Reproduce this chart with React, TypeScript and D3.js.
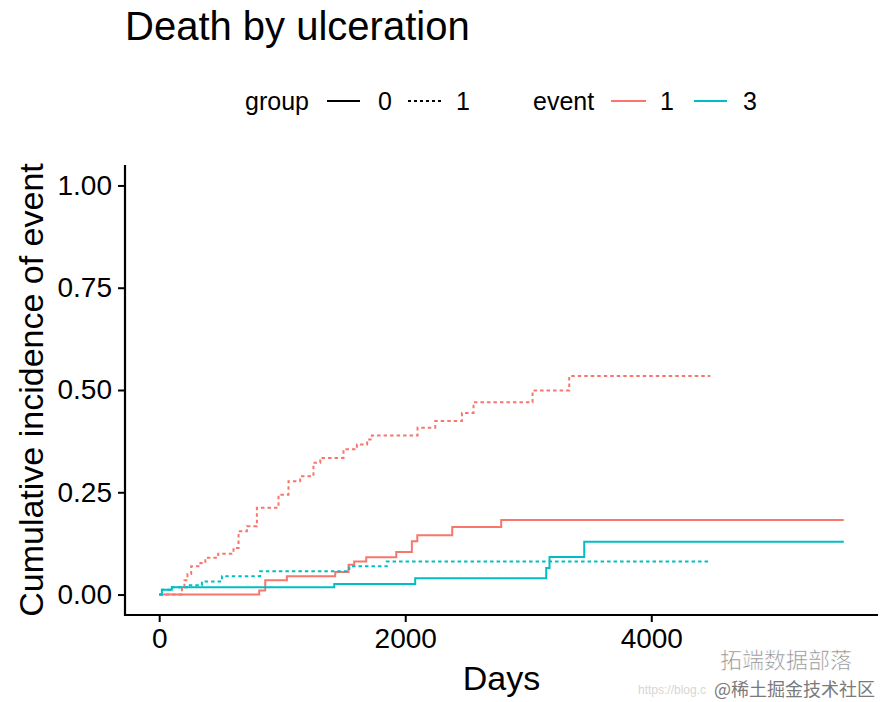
import React, { useEffect, useRef } from 'react';
import * as d3 from 'd3';

// cumulative incidence, days / value
const g0e1Days = [0, 813, 862, 1038, 1431, 1539, 1585, 1683, 1927, 2054, 2098, 2382, 2780, 5565];
const g0e1Vals = [0, 0.010, 0.035, 0.045, 0.055, 0.073, 0.081, 0.091, 0.104, 0.130, 0.145, 0.165, 0.182, 0.182];

const g0e3Days = [0, 22, 103, 1423, 2081, 3146, 3173, 3455, 5565];
const g0e3Vals = [0, 0.012, 0.018, 0.026, 0.040, 0.065, 0.092, 0.129, 0.129];

const g1e1Days = [0, 185, 205, 230, 260, 335, 375, 480, 604, 645, 713, 794, 970, 1051, 1146, 1254, 1309, 1498, 1607, 1690, 1729, 2100, 2244, 2461, 2555, 3035, 3333, 4480];
const g1e1Vals = [0, 0.020, 0.035, 0.050, 0.069, 0.077, 0.090, 0.100, 0.114, 0.155, 0.167, 0.212, 0.244, 0.277, 0.289, 0.322, 0.334, 0.355, 0.367, 0.379, 0.389, 0.408, 0.424, 0.444, 0.470, 0.499, 0.534, 0.534];

const g1e3Days = [0, 22, 103, 236, 347, 510, 821, 1545, 1850, 4480];
const g1e3Vals = [0, 0.012, 0.018, 0.023, 0.032, 0.045, 0.057, 0.069, 0.081, 0.081];

const xTicks = [0, 2000, 4000];
const yTicks = [0, 0.25, 0.5, 0.75, 1];

const FONT = '"Liberation Sans", Arial, sans-serif';
const CJK = '"Noto Sans CJK SC", sans-serif';
const RED = '#F8766D';
const TEAL = '#00BFC4';
const DASH = '3.5,3';

const series = [
  { days: g0e1Days, vals: g0e1Vals, color: RED, dashed: false },
  { days: g0e3Days, vals: g0e3Vals, color: TEAL, dashed: false },
  { days: g1e1Days, vals: g1e1Vals, color: RED, dashed: true },
  { days: g1e3Days, vals: g1e3Vals, color: TEAL, dashed: true },
];

const App: React.FC = () => {
  const ref = useRef<SVGSVGElement>(null);

  useEffect(() => {
    if (!ref.current) return;
    const svg = d3.select(ref.current);
    svg.selectAll('*').remove();

    const left = 125, right = 878, top = 165, bottom = 615;
    // ggplot style 5% expansion on both axes
    const x = d3.scaleLinear().domain([-278, 5843]).range([left, right]);
    const y = d3.scaleLinear().domain([-0.05, 1.05]).range([bottom, top]);

    svg.append('rect').attr('width', 880).attr('height', 702).attr('fill', '#fff');

    // title
    svg.append('text')
      .attr('x', 125).attr('y', 40)
      .style('font-family', FONT).style('font-size', '40px')
      .text('Death by ulceration');

    // legend
    const lg = svg.append('g').style('font-family', FONT).style('font-size', '25px');
    const ly = 101;
    lg.append('text').attr('x', 245).attr('y', ly + 9).text('group');
    lg.append('line').attr('x1', 327).attr('x2', 360).attr('y1', ly).attr('y2', ly)
      .attr('stroke', '#000').attr('stroke-width', 2);
    lg.append('text').attr('x', 378).attr('y', ly + 9).text('0');
    lg.append('line').attr('x1', 408).attr('x2', 442).attr('y1', ly).attr('y2', ly)
      .attr('stroke', '#000').attr('stroke-width', 2).attr('stroke-dasharray', '3,3');
    lg.append('text').attr('x', 456).attr('y', ly + 9).text('1');
    lg.append('text').attr('x', 533).attr('y', ly + 9).text('event');
    lg.append('line').attr('x1', 611).attr('x2', 646).attr('y1', ly).attr('y2', ly)
      .attr('stroke', RED).attr('stroke-width', 2);
    lg.append('text').attr('x', 660).attr('y', ly + 9).text('1');
    lg.append('line').attr('x1', 694).attr('x2', 727).attr('y1', ly).attr('y2', ly)
      .attr('stroke', TEAL).attr('stroke-width', 2);
    lg.append('text').attr('x', 743).attr('y', ly + 9).text('3');

    // curves
    const line = d3.line<[number, number]>()
      .x(d => x(d[0]))
      .y(d => y(d[1]))
      .curve(d3.curveStepAfter);

    series.forEach(s => {
      const pts = s.days.map((d, i) => [d, s.vals[i]] as [number, number]);
      svg.append('path')
        .attr('d', line(pts))
        .attr('fill', 'none')
        .attr('stroke', s.color)
        .attr('stroke-width', 2)
        .attr('stroke-dasharray', s.dashed ? DASH : null);
    });

    // axes
    const xAxis = svg.append('g')
      .attr('transform', `translate(0,${bottom})`)
      .call(d3.axisBottom(x).tickValues(xTicks).tickSize(7).tickPadding(6).tickFormat(d3.format('d')));
    const yAxis = svg.append('g')
      .attr('transform', `translate(${left},0)`)
      .call(d3.axisLeft(y).tickValues(yTicks).tickSize(7).tickPadding(6).tickFormat(d3.format('.2f')));

    [xAxis, yAxis].forEach(ax => {
      ax.select('.domain').remove();
      ax.selectAll('.tick line').attr('stroke', '#000').attr('stroke-width', 2);
      ax.selectAll('.tick text')
        .attr('fill', '#000')
        .style('font-family', FONT)
        .style('font-size', '28px');
    });
    xAxis.selectAll('.tick text').attr('dy', '0.71em');

    svg.append('line').attr('x1', left).attr('x2', left).attr('y1', top).attr('y2', bottom + 1)
      .attr('stroke', '#000').attr('stroke-width', 2.2);
    svg.append('line').attr('x1', left - 1).attr('x2', right).attr('y1', bottom).attr('y2', bottom)
      .attr('stroke', '#000').attr('stroke-width', 2.2);

    // axis titles
    svg.append('text')
      .attr('x', (left + right) / 2).attr('y', 690)
      .attr('text-anchor', 'middle')
      .style('font-family', FONT).style('font-size', '34px')
      .text('Days');
    svg.append('text')
      .attr('transform', `translate(43,${(top + bottom) / 2}) rotate(-90)`)
      .attr('text-anchor', 'middle')
      .style('font-family', FONT).style('font-size', '34px')
      .text('Cumulative incidence of event');

    // watermark
    svg.append('text')
      .attr('x', 720).attr('y', 668)
      .style('font-family', CJK).style('font-size', '22px')
      .attr('fill', '#8c8c8c').attr('stroke', '#fff').attr('stroke-width', 0.6)
      .text('拓端数据部落');
    svg.append('text')
      .attr('x', 706).attr('y', 694)
      .attr('text-anchor', 'end')
      .style('font-family', FONT).style('font-size', '12px')
      .attr('fill', '#d6d6d6')
      .text('https://blog.c');
    svg.append('text')
      .attr('x', 714).attr('y', 696)
      .style('font-family', CJK).style('font-size', '18px')
      .attr('fill', '#7a7a7a').attr('stroke', '#fff').attr('stroke-width', 0.5)
      .attr('paint-order', 'stroke')
      .text('@稀土掘金技术社区');
  }, []);

  return (
    <svg
      ref={ref}
      width={880}
      height={702}
      style={{ position: 'absolute', left: 0, top: 0, display: 'block' }}
    />
  );
};

export default App;
